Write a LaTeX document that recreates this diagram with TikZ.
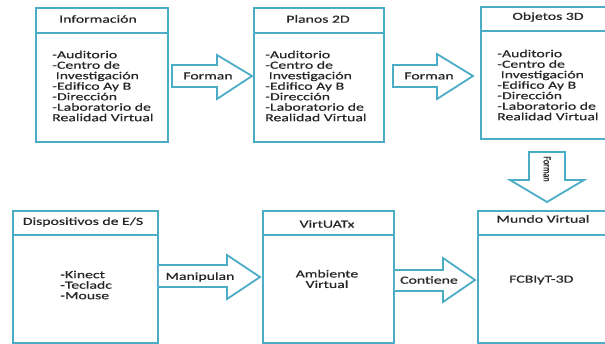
\documentclass[tikz,border=0pt]{standalone}
\usepackage{fontspec}
\setmainfont{Carlito}[FakeStretch=1.46,FakeBold=0.6]
\newfontfamily\narrowfont{Carlito}[FakeStretch=0.75,FakeBold=0.6]
\definecolor{ln}{HTML}{4BACC6}
\definecolor{tx}{HTML}{262626}
\begin{document}
\begin{tikzpicture}[x=1pt,y=-1pt,
  boxline/.style={draw=ln,line width=1.8pt},
  blockarrow/.style={draw=ln,line width=1.8pt,fill=white,line join=miter},
  ttl/.style={font=\fontsize{10.8}{10.5}\selectfont,text=tx,inner sep=0pt},
  body/.style={font=\fontsize{10.8}{10.5}\selectfont,text=tx,inner sep=0pt,align=left},
  cbody/.style={font=\fontsize{10.8}{10.5}\selectfont,text=tx,inner sep=0pt,align=center}]
\useasboundingbox (0,0) rectangle (605,343);
\clip (0,0) rectangle (605,343);
% boxes
\node[boxline,anchor=north west,minimum width=132pt,minimum height=134pt,inner sep=0pt] (b1) at (35,7) {};
\node[boxline,anchor=north west,minimum width=130pt,minimum height=134pt,inner sep=0pt] (b2) at (253,7) {};
\node[boxline,anchor=north west,minimum width=135pt,minimum height=132pt,inner sep=0pt] (b3) at (480,6) {};
\node[boxline,anchor=north west,minimum width=145pt,minimum height=132pt,inner sep=0pt] (b4) at (12,210) {};
\node[boxline,anchor=north west,minimum width=131pt,minimum height=132pt,inner sep=0pt] (b5) at (262,210) {};
\node[boxline,anchor=north west,minimum width=138pt,minimum height=132pt,inner sep=0pt] (b6) at (477,210) {};
% header lines
\draw[boxline] (b1.west |- 0,33) -- (b1.east |- 0,33);
\draw[boxline] (b2.west |- 0,33) -- (b2.east |- 0,33);
\draw[boxline] (b3.west |- 0,31) -- (b3.east |- 0,31);
\draw[boxline] (b4.west |- 0,235) -- (b4.east |- 0,235);
\draw[boxline] (b5.west |- 0,235) -- (b5.east |- 0,235);
\draw[boxline] (b6.west |- 0,235) -- (b6.east |- 0,235);
% titles
\node[ttl] (t1) at (98,19) {Información};
\node[ttl] (t2) at (318,19) {Planos 2D};
\node[ttl] (t3) at (548,17) {Objetos 3D};
\node[ttl] (t4) at (83,222) {Dispositivos de E/S};
\node[ttl] (t5) at (327,224) {VirtUATx};
\node[ttl] (t6) at (543,219) {Mundo Virtual};
% bodies
\node[body,anchor=west] (c1) at (52,86) {-Auditorio\\-Centro de\\ \ Investigación\\-Edifico Ay B\\-Dirección\\-Laboratorio de\\Realidad Virtual};
\node[body,anchor=west] (c2) at (265,86) {-Auditorio\\-Centro de\\ \ Investigación\\-Edifico Ay B\\-Dirección\\-Laboratorio de\\Realidad Virtual};
\node[body,anchor=west] (c3) at (497,85) {-Auditorio\\-Centro de\\ \ Investigación\\-Edifico Ay B\\-Dirección\\-Laboratorio de\\Realidad Virtual};
\node[body,anchor=west] (c4) at (60,285) {-Kinect\\-Tecladc\\-Mouse};
\node[cbody] (c5) at (327,279) {Ambiente\\Virtual};
\node[ttl,anchor=west] (c6) at (509,280) {FCBIyT-3D};
% block arrows
\draw[blockarrow] (172,65) -- (217,65) -- (217,55) -- (252,76) -- (217,99) -- (217,87) -- (172,87) -- cycle;
\draw[blockarrow] (393,65) -- (437,65) -- (437,54) -- (473,76) -- (437,99) -- (437,87) -- (393,87) -- cycle;
\draw[blockarrow] (529,152) -- (565,152) -- (565,180) -- (584,180) -- (547,202) -- (510,180) -- (529,180) -- cycle;
\draw[blockarrow] (b4.east |- 0,265) -- (227,265) -- (227,255) -- (260,277) -- (227,299) -- (227,287) -- (b4.east |- 0,287);
\draw[blockarrow] (b5.east |- 0,270) -- (443,270) -- (443,258) -- (475,280) -- (443,302) -- (443,291) -- (b5.east |- 0,291);
% arrow labels
\node[ttl] (l1) at (208,76) {Forman};
\node[ttl] (l2) at (429,76) {Forman};
\node[ttl,font=\narrowfont\fontsize{10.8}{10.5}\selectfont,rotate=-90] (l3) at (547,169) {Forman};
\node[ttl] (l4) at (200,277) {Manipulan};
\node[ttl] (l5) at (429,280) {Contiene};
\end{tikzpicture}
\end{document}
